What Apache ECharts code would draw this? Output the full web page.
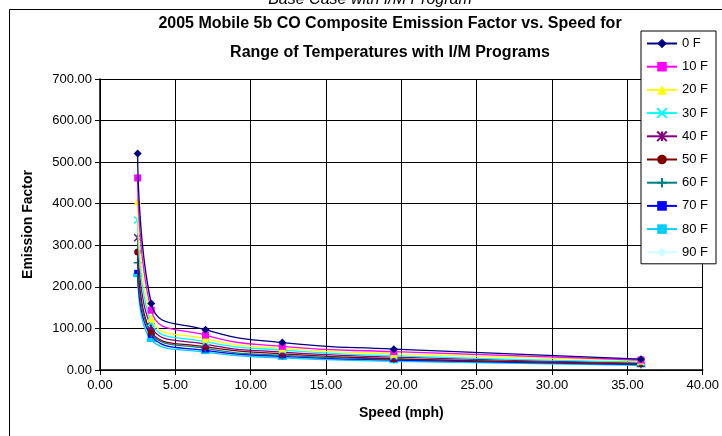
<!DOCTYPE html>
<html><head><meta charset="utf-8">
<script src="https://cdn.jsdelivr.net/npm/echarts@6/dist/echarts.min.js"></script>
<style>html,body{margin:0;padding:0;background:#fff}#c{width:722px;height:436px}</style>
</head><body><div id="c"></div>
<script>
var speeds = [2.5, 3.4, 7.0, 12.1, 19.5, 35.9];
var seriesNames = ['0 F','10 F','20 F','30 F','40 F','50 F','60 F','70 F','80 F','90 F'];
var v0  = [521, 160, 97, 66, 50, 26];
var v10 = [462, 144, 84, 57, 44, 24];
var v20 = [406, 124, 75, 52, 39, 22];
var v30 = [361, 114, 68, 48, 34, 19];
var v40 = [318, 104, 62, 43, 31, 17];
var v50 = [284, 92, 56, 39, 27, 15];
var v60 = [258, 88, 52, 35, 26, 14];
var v70 = [236, 82, 47, 33, 24, 13];
var v80 = [228, 72, 43, 29, 21, 11];
var v90 = [242, 77, 45, 31, 22, 12];
var yTicks = [0,100,200,300,400,500,600,700];
var xTicks = [0,5,10,15,20,25,30,35,40];

var allVals = [v0,v10,v20,v30,v40,v50,v60,v70,v80,v90];
var colors = ['#000080','#FF00FF','#FFFF00','#00FFFF','#800080','#800000','#008080','#0000FF','#00CCFF','#CCFFFF'];
var symbols = [
  'diamond','rect','triangle',
  'path://M0,0L10,10M10,0L0,10',
  'path://M0,0L10,10M10,0L0,10M5,0L5,10',
  'circle',
  'path://M5,0L5,10M0,5L10,5',
  'rect','rect','diamond'
];
var sizes = [8,7,8,7,7,7,8,[7,4],[9,4],8];
var stroked = [false,false,false,true,true,false,true,false,false,false];

var chart = echarts.init(document.getElementById('c'), null, {renderer:'canvas'});
var series = allVals.map(function(vals, i){
  return {
    name: seriesNames[i],
    type: 'line',
    smooth: 0.5,
    data: speeds.map(function(s, j){ return [s, vals[j]]; }),
    symbol: symbols[i],
    symbolSize: sizes[i],
    showSymbol: true,
    lineStyle: {color: colors[i], width: 1.3},
    itemStyle: stroked[i] ? {color: colors[i], borderColor: colors[i], borderWidth: 1.5} : {color: colors[i], borderWidth: 0},
    emphasis: {disabled: true},
    z: 10 - i
  };
});

chart.setOption({
  animation: false,
  backgroundColor: '#fff',
  textStyle: {fontFamily: 'Arial, "Liberation Sans", sans-serif'},
  graphic: [
    {type:'rect', shape:{x:9.5, y:9.5, width:740, height:460}, style:{fill:'none', stroke:'#000', lineWidth:1}, silent:true},
    {type:'text', x: 370, y: -8, style:{text:'Base Case with I/M Program', font:'italic 16px Arial, "Liberation Sans", sans-serif', fill:'#000', align:'center', verticalAlign:'top'}},
    {type:'text', x: 390, y: 24, style:{text:'2005 Mobile 5b CO Composite Emission Factor vs. Speed for', font:'bold 16px Arial, "Liberation Sans", sans-serif', fill:'#000', align:'center', verticalAlign:'middle'}},
    {type:'text', x: 390, y: 53, style:{text:'Range of Temperatures with I/M Programs', font:'bold 16px Arial, "Liberation Sans", sans-serif', fill:'#000', align:'center', verticalAlign:'middle'}}
  ],
  grid: {left: 100, right: 15, top: 79, bottom: 66, containLabel: false},
  legend: {
    orient: 'vertical', left: 641, top: 31,
    backgroundColor: '#fff', borderColor: '#000', borderWidth: 1,
    padding: [6, 8, 5, 5],
    itemWidth: 30, itemHeight: 12, itemGap: 10.2,
    textStyle: {fontSize: 13, color: '#000', fontFamily: 'Arial, "Liberation Sans", sans-serif'},
    data: seriesNames
  },
  xAxis: {
    type: 'value', min: 0, max: 40, interval: 5,
    name: 'Speed (mph)', nameLocation: 'middle', nameGap: 36,
    nameTextStyle: {fontWeight: 'bold', fontSize: 14, color: '#000'},
    axisLine: {lineStyle: {color: '#000', width: 1.5}},
    axisTick: {show: true, length: 5, lineStyle: {color: '#000'}},
    axisLabel: {color: '#000', fontSize: 13, margin: 9, formatter: function(v){ return v.toFixed(2); }},
    splitLine: {show: true, lineStyle: {color: '#000', width: 1}}
  },
  yAxis: {
    type: 'value', min: 0, max: 700, interval: 100,
    name: 'Emission Factor', nameLocation: 'middle', nameGap: 65,
    nameTextStyle: {fontWeight: 'bold', fontSize: 14, color: '#000'},
    axisLine: {show: true, lineStyle: {color: '#000', width: 1.5}},
    axisTick: {show: true, length: 5, lineStyle: {color: '#000'}},
    axisLabel: {color: '#000', fontSize: 13, margin: 8, formatter: function(v){ return v.toFixed(2); }},
    splitLine: {show: true, lineStyle: {color: '#000', width: 1}}
  },
  series: series
});
</script></body></html>
